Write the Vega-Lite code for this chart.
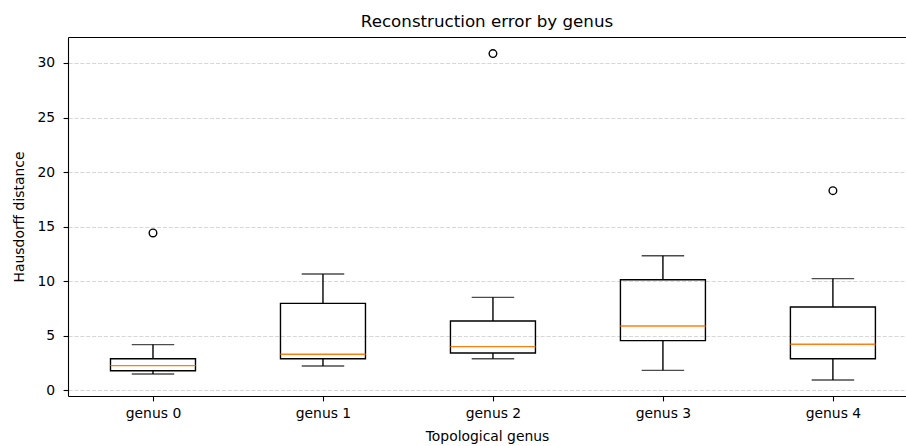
{
  "$schema": "https://vega.github.io/schema/vega-lite/v6.json",
  "width": 838,
  "height": 359,
  "autosize": {"type": "none"},
  "padding": {"left": 68, "top": 37, "right": 0, "bottom": 50},
  "background": "white",
  "title": {"text": "Reconstruction error by genus", "fontSize": 16.7, "font": "DejaVu Sans", "fontWeight": "normal", "color": "black", "anchor": "middle", "offset": 6, "frame": "group"},
  "config": {
    "font": "DejaVu Sans",
    "view": {"stroke": null},
    "axis": {"labelFont": "DejaVu Sans", "titleFont": "DejaVu Sans", "labelColor": "black", "titleColor": "black", "tickColor": "black", "tickWidth": 1.1, "tickSize": 4.9, "labelFontSize": 13.9, "titleFontSize": 13.9, "titleFontWeight": "normal", "domain": true, "domainColor": "black", "domainWidth": 1.1}
  },
  "datasets": {
    "stats": [
      {"genus": 0, "lower": 1.50, "q1": 1.80, "median": 2.26, "q3": 2.90, "upper": 4.19},
      {"genus": 1, "lower": 2.23, "q1": 2.90, "median": 3.30, "q3": 7.97, "upper": 10.66},
      {"genus": 2, "lower": 2.90, "q1": 3.42, "median": 4.00, "q3": 6.35, "upper": 8.52},
      {"genus": 3, "lower": 1.83, "q1": 4.55, "median": 5.89, "q3": 10.13, "upper": 12.33},
      {"genus": 4, "lower": 0.95, "q1": 2.90, "median": 4.22, "q3": 7.64, "upper": 10.24}
    ],
    "outliers": [
      {"genus": 0, "value": 14.42},
      {"genus": 2, "value": 30.86},
      {"genus": 4, "value": 18.30}
    ]
  },
  "resolve": {"axis": {"x": "independent"}},
  "encoding": {
    "x": {"field": "genus", "type": "quantitative", "scale": {"domain": [-0.5, 4.43], "nice": false, "zero": false, "padding": 0}, "axis": null}
  },
  "layer": [
    {
      "data": {"name": "stats"},
      "mark": {"type": "rule", "color": "black", "strokeWidth": 1.39},
      "encoding": {
        "x": {"field": "genus", "type": "quantitative",
          "axis": {"orient": "bottom", "values": [0, 1, 2, 3, 4], "labelExpr": "'genus ' + datum.value", "grid": false, "title": "Topological genus", "labelPadding": 5.5, "titlePadding": 9, "labelFlush": false}},
        "y": {"field": "lower", "type": "quantitative", "scale": {"domain": [-0.52, 32.38], "nice": false, "zero": false},
          "axis": {"values": [0, 5, 10, 15, 20, 25, 30], "title": "Hausdorff distance", "grid": true, "gridColor": "#b0b0b0", "gridOpacity": 0.5, "gridDash": [4.1, 1.8], "gridWidth": 1.1, "labelPadding": 8.5, "titlePadding": 10}},
        "y2": {"field": "q1"}
      }
    },
    {
      "data": {"name": "stats"},
      "mark": {"type": "rule", "color": "black", "strokeWidth": 1.39},
      "encoding": {"y": {"field": "q3", "type": "quantitative"}, "y2": {"field": "upper"}}
    },
    {
      "data": {"name": "stats"},
      "mark": {"type": "tick", "orient": "horizontal", "color": "black", "size": 42.5, "thickness": 1.39},
      "encoding": {"y": {"field": "lower", "type": "quantitative"}}
    },
    {
      "data": {"name": "stats"},
      "mark": {"type": "tick", "orient": "horizontal", "color": "black", "size": 42.5, "thickness": 1.39},
      "encoding": {"y": {"field": "upper", "type": "quantitative"}}
    },
    {
      "data": {"name": "stats"},
      "mark": {"type": "bar", "orient": "vertical", "filled": false, "stroke": "black", "strokeWidth": 1.39, "size": 85},
      "encoding": {"y": {"field": "q1", "type": "quantitative"}, "y2": {"field": "q3"}}
    },
    {
      "data": {"name": "stats"},
      "mark": {"type": "tick", "orient": "horizontal", "color": "#ff7f0e", "opacity": 1, "size": 85, "thickness": 1.39},
      "encoding": {"y": {"field": "median", "type": "quantitative"}}
    },
    {
      "data": {"name": "outliers"},
      "mark": {"type": "point", "shape": "circle", "filled": false, "stroke": "black", "strokeWidth": 1.39, "size": 58, "opacity": 1},
      "encoding": {
        "x": {"field": "genus", "type": "quantitative",
          "axis": {"orient": "top", "labels": false, "ticks": false, "grid": false, "title": null, "domain": true}},
        "y": {"field": "value", "type": "quantitative"}
      }
    }
  ]
}
